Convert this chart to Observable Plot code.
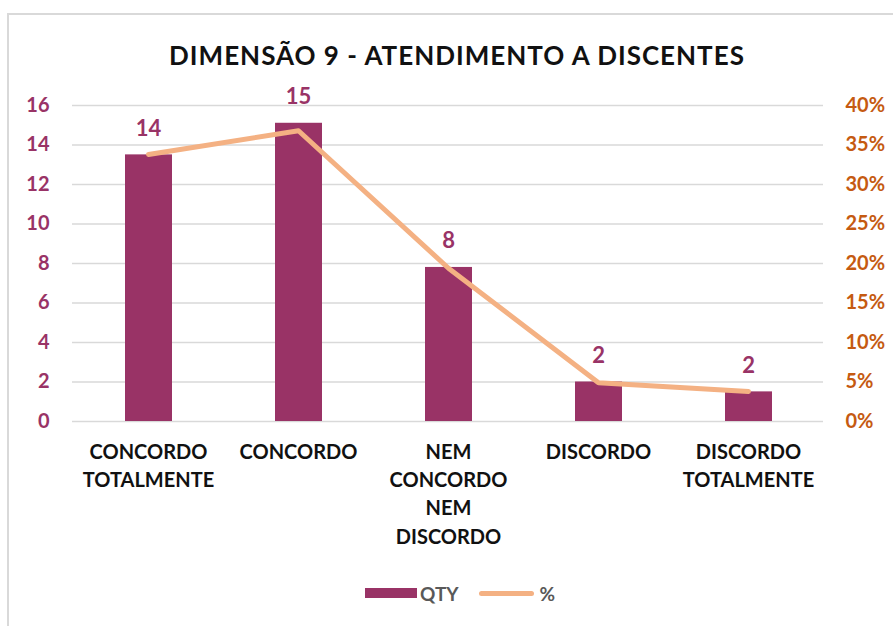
<!DOCTYPE html>
<html>
<head>
<meta charset="utf-8">
<script src="https://cdn.jsdelivr.net/npm/d3@7"></script>
<script src="https://cdn.jsdelivr.net/npm/@observablehq/plot@0.6"></script>
<style>
  html, body { margin: 0; padding: 0; background: #fff; }
  body { width: 893px; height: 626px; position: relative; overflow: hidden; font-family: Lato, "Open Sans", sans-serif; }
  #frame { position: absolute; left: 7px; top: 13px; width: 900px; height: 700px; border-top: 2px solid #d9d9d9; border-left: 2px solid #d9d9d9; box-sizing: border-box; }
  #title { position: absolute; left: 0; width: 914px; top: 38px; text-align: center; font-weight: 700; font-size: 26px; letter-spacing: 1px; color: #111; line-height: 34px; }
  #chart { position: absolute; left: 0; top: 80px; }
  #legend { position: absolute; left: 365px; top: 581px; display: flex; align-items: center; font-size: 19px; font-weight: 700; color: #595959; height: 24px; }
  .sw-bar { width: 52px; height: 10px; background: #993366; margin-right: 3px; }
  .sw-line { width: 55px; height: 5px; border-radius: 3px; background: #f4b183; margin-left: 20px; margin-right: 6px; }
</style>
</head>
<body>
<div id="frame"></div>
<div id="title">DIMENSÃO 9 - ATENDIMENTO A DISCENTES</div>
<div id="chart"></div>
<div id="legend"><div class="sw-bar"></div><span>QTY</span><div class="sw-line"></div><span>%</span></div>
<script>
const categories = ["CONCORDO TOTALMENTE", "CONCORDO", "NEM CONCORDO NEM DISCORDO", "DISCORDO", "DISCORDO TOTALMENTE"];
const categoryLabels = ["CONCORDO\nTOTALMENTE", "CONCORDO", "NEM\nCONCORDO\nNEM\nDISCORDO", "DISCORDO", "DISCORDO\nTOTALMENTE"];
const qty = [13.5, 15.1, 7.8, 2.0, 1.5];
const qtyLabels = ["14", "15", "8", "2", "2"];
const pct = [33.8, 36.8, 19.4, 4.9, 3.8];
const leftTicks = [0, 2, 4, 6, 8, 10, 12, 14, 16];
const rightTicks = [0, 5, 10, 15, 20, 25, 30, 35, 40];

const QMAX = 16, PMAX = 40;
const data = categories.map((c, i) => ({cat: c, label: categoryLabels[i], qty: qty[i], qlab: qtyLabels[i], pct: pct[i]}));
const labelOf = new Map(data.map(d => [d.cat, d.label]));

const purple = "#993366";
const orange = "#c55a11";

const plot = Plot.plot({
  width: 893,
  height: 490,
  marginTop: 25,
  marginBottom: 149,
  marginLeft: 72,
  marginRight: 70,
  style: {fontFamily: "Lato, 'Open Sans', sans-serif", background: "transparent"},
  x: {type: "band", domain: categories, padding: 0, label: null},
  y: {domain: [0, QMAX], label: null},
  marks: [
    Plot.gridY(leftTicks, {stroke: "#d9d9d9", strokeOpacity: 1, strokeWidth: 1.5}),
    Plot.barY(data, {x: "cat", y: "qty", fill: purple, insetLeft: 52, insetRight: 51}),
    Plot.line(data, {x: "cat", y: d => d.pct * QMAX / PMAX, stroke: "#f4b183", strokeWidth: 5, strokeLinecap: "round", strokeLinejoin: "round"}),
    Plot.text(data, {x: "cat", y: "qty", text: "qlab", dy: -26, fill: purple, fontSize: 22, fontWeight: 700}),
    Plot.axisY(leftTicks, {anchor: "left", tickSize: 0, tickPadding: 23, fontSize: 20, fontWeight: 700, color: purple, label: null}),
    Plot.axisY(rightTicks.map(t => t * QMAX / PMAX), {anchor: "right", tickSize: 0, tickPadding: 22, fontSize: 20, fontWeight: 700, color: orange, label: null, tickFormat: (d, i) => rightTicks[i] + "%"}),
    Plot.axisX({anchor: "bottom", tickSize: 0, tickPadding: 17, fontSize: 20, fontWeight: 700, color: "#111", lineHeight: 1.42, lineAnchor: "top", tickFormat: d => labelOf.get(d), label: null})
  ]
});
document.getElementById("chart").appendChild(plot);
</script>
</body>
</html>
